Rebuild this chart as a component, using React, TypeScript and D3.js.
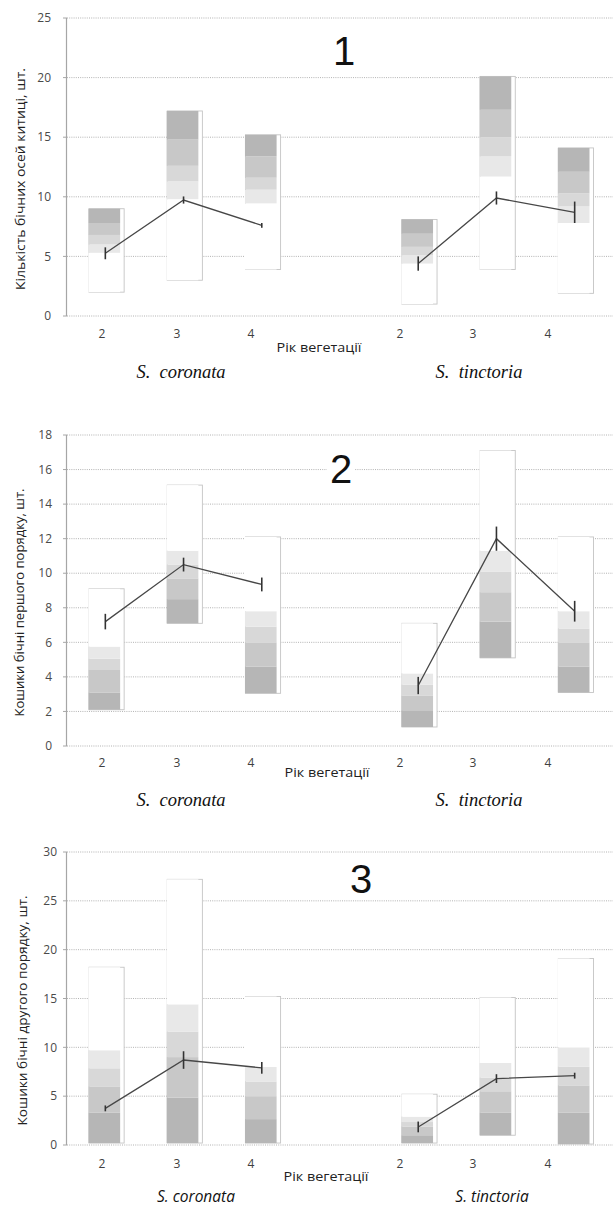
import React from "react";
import * as d3 from "d3";

// ---- data ----
const categories = ["c2", "c3", "c4", "gap", "t2", "t3", "t4"];
const barKeys = ["c2", "c3", "c4", "t2", "t3", "t4"];
const tickLabels = ["2", "3", "4", "2", "3", "4"];
const species = ["S.  coronata", "S.  tinctoria"];
const xTitle = "Рік вегетації";

// boundaries (ascending): [min, b1, b2, b3, b4, max]
const p1Bounds = [
  [2, 5.3, 6.0, 6.8, 7.8, 9.0],
  [3, 9.8, 11.3, 12.6, 14.8, 17.2],
  [3.9, 9.45, 10.6, 11.6, 13.4, 15.2],
  [1, 4.4, 5.1, 5.8, 6.9, 8.1],
  [3.9, 11.7, 13.4, 15.0, 17.3, 20.1],
  [1.9, 7.8, 9.2, 10.3, 12.1, 14.1],
];
const p1Mean = [5.26, 9.73, 7.6, 4.4, 9.9, 8.7];
const p1Err = [0.5, 0.3, 0.2, 0.6, 0.55, 0.9];

const p2Bounds = [
  [2.1, 3.1, 4.4, 5.05, 5.75, 9.1],
  [7.1, 8.5, 9.7, 10.5, 11.3, 15.1],
  [3.05, 4.6, 6.0, 6.9, 7.8, 12.1],
  [1.1, 2.07, 2.9, 3.55, 4.2, 7.1],
  [5.1, 7.2, 8.9, 10.1, 11.3, 17.1],
  [3.1, 4.6, 6.0, 6.8, 7.8, 12.1],
];
const p2Mean = [7.2, 10.5, 9.35, 3.5, 12.0, 7.8];
const p2Err = [0.45, 0.4, 0.4, 0.5, 0.7, 0.6];

const p3Bounds = [
  [0.2, 3.3, 6.0, 7.85, 9.7, 18.2],
  [0.2, 4.85, 9.0, 11.6, 14.4, 27.2],
  [0.2, 2.65, 5.0, 6.5, 8.0, 15.2],
  [0.2, 1.0, 1.9, 2.35, 2.9, 5.2],
  [1.0, 3.3, 5.5, 6.9, 8.4, 15.1],
  [0.1, 3.3, 6.1, 8.0, 10.0, 19.1],
];
const p3Mean = [3.75, 8.7, 7.9, 1.85, 6.8, 7.1];
const p3Err = [0.3, 0.9, 0.6, 0.55, 0.45, 0.3];

const p1Ticks = [0, 5, 10, 15, 20, 25];
const p2Ticks = [0, 2, 4, 6, 8, 10, 12, 14, 16, 18];
const p3Ticks = [0, 5, 10, 15, 20, 25, 30];

const titles = [
  "Кількість бічних осей китиці, шт.",
  "Кошики бічні першого порядку, шт.",
  "Кошики бічні другого порядку, шт.",
];

// shades bottom->top
const shadesTopDark = ["#ffffff", "#e8e8e8", "#d8d8d8", "#c8c8c8", "#b6b6b6"];
const shadesBottomDark = ["#b6b6b6", "#c8c8c8", "#d8d8d8", "#e8e8e8", "#ffffff"];

const tickX = [102, 177, 251, 400, 473, 548];

type PanelProps = {
  y0: number; y1: number; max: number; ticks: number[];
  bounds: number[][]; mean: number[]; err: number[]; shades: string[];
  title: string; titleX: number; titleLen: number; tickLabelX: number;
  num: string; numX: number; numBase: number;
  catY: number; xTitleX: number; xTitleY: number; spY: number; spSerif: boolean;
  spX: number[];
};

const x = d3.scaleBand<string>().domain(categories).range([67, 613]).paddingInner(0.57).paddingOuter(0.275);

function Panel(p: PanelProps) {
  const y = d3.scaleLinear().domain([0, p.max]).range([p.y0, p.y1]);
  const bw = x.bandwidth();
  const groups = [[0, 1, 2], [3, 4, 5]];
  return (
    <g>
      {p.ticks.map((t) => (
        <g key={t}>
          <line x1={67} x2={613} y1={y(t)} y2={y(t)} stroke="#a0a0a0" strokeWidth={0.8} strokeDasharray="1,1.2" />
          <line x1={63} x2={67} y1={y(t)} y2={y(t)} stroke="#a6a6a6" strokeWidth={1} />
          <text x={p.tickLabelX} y={y(t)} dy="0.35em" textAnchor="end" fontFamily="Open Sans" fontSize={12} fill="#4a4a4a">{t}</text>
        </g>
      ))}
      <line x1={66.5} x2={66.5} y1={p.y1} y2={p.y0} stroke="#a6a6a6" strokeWidth={1.2} />
      {barKeys.map((k, i) => {
        const x0 = x(k)!;
        const b = p.bounds[i];
        return (
          <g key={k}>
            <rect x={x0 + 0.5} y={y(b[5])} width={bw + 1.5} height={y(b[0]) - y(b[5])} fill="#fff" stroke="#c4c4c4" strokeWidth={0.9} />
            {[0, 1, 2, 3, 4].map((j) => (
              <rect key={j} x={x0} y={y(b[j + 1])} width={bw - 2} height={y(b[j]) - y(b[j + 1])} fill={p.shades[j]} />
            ))}
          </g>
        );
      })}
      {groups.map((g, gi) => {
        const pts = g.map((i) => [x(barKeys[i])! + bw / 2, y(p.mean[i])] as [number, number]);
        const path = d3.line()(pts);
        return (
          <g key={gi}>
            <path d={path!} fill="none" stroke="#474747" strokeWidth={1.3} />
            {g.map((i) => {
              const cx = x(barKeys[i])! + bw / 2;
              return <line key={i} x1={cx} x2={cx} y1={y(p.mean[i] - p.err[i])} y2={y(p.mean[i] + p.err[i])} stroke="#333" strokeWidth={1.6} />;
            })}
          </g>
        );
      })}
      <rect x={p.numX - 14} y={p.numBase - 32} width={28} height={34} fill="#fff" />
      <text x={p.numX} y={p.numBase} textAnchor="middle" fontFamily="Liberation Sans" fontSize={40} fill="#111">{p.num}</text>
      <text transform={`translate(${p.titleX},${(p.y0 + p.y1) / 2 + 12}) rotate(-90)`} textAnchor="middle" dy="0.35em"
        fontFamily="Open Sans" fontSize={13.5} fill="#222" textLength={p.titleLen} lengthAdjust="spacingAndGlyphs">{p.title}</text>
      {tickLabels.map((t, i) => (
        <text key={i} x={tickX[i]} y={p.catY} dy="0.35em" textAnchor="middle" fontFamily="Open Sans" fontSize={12} fill="#404040">{t}</text>
      ))}
      <text x={p.xTitleX} y={p.xTitleY} dy="0.35em" textAnchor="middle" fontFamily="Open Sans" fontSize={13} fill="#222" textLength={85} lengthAdjust="spacingAndGlyphs">{xTitle}</text>
      {species.map((s, i) => (
        <text key={s} x={p.spX[i]} y={p.spY} dy="0.35em" textAnchor="middle"
          fontFamily={p.spSerif ? "Liberation Serif" : "Open Sans"} fontStyle="italic" fontSize={p.spSerif ? 18.5 : 15.5} fill="#111"
          style={{ whiteSpace: "pre" }} xmlSpace="preserve">{p.spSerif ? s : s.replace("  ", " ")}</text>
      ))}
    </g>
  );
}

export default function App() {
  return (
    <svg width={613} height={1207} style={{ position: "absolute", left: 0, top: 0, background: "#fff" }}>
      <Panel y0={316} y1={18} max={25} ticks={p1Ticks} bounds={p1Bounds} mean={p1Mean} err={p1Err} shades={shadesTopDark}
        title={titles[0]} titleX={20} titleLen={222} tickLabelX={51} num="1" numX={344} numBase={65}
        catY={334} xTitleX={319} xTitleY={347} spY={372} spSerif={true} spX={[181, 479]} />
      <Panel y0={746} y1={435} max={18} ticks={p2Ticks} bounds={p2Bounds} mean={p2Mean} err={p2Err} shades={shadesBottomDark}
        title={titles[1]} titleX={19} titleLen={228} tickLabelX={52} num="2" numX={341} numBase={483}
        catY={763} xTitleX={327} xTitleY={772} spY={800} spSerif={true} spX={[181, 479]} />
      <Panel y0={1145} y1={852} max={30} ticks={p3Ticks} bounds={p3Bounds} mean={p3Mean} err={p3Err} shades={shadesBottomDark}
        title={titles[2]} titleX={22} titleLen={230} tickLabelX={57} num="3" numX={361} numBase={893}
        catY={1164} xTitleX={326} xTitleY={1176} spY={1197} spSerif={false} spX={[196, 492]} />
    </svg>
  );
}
